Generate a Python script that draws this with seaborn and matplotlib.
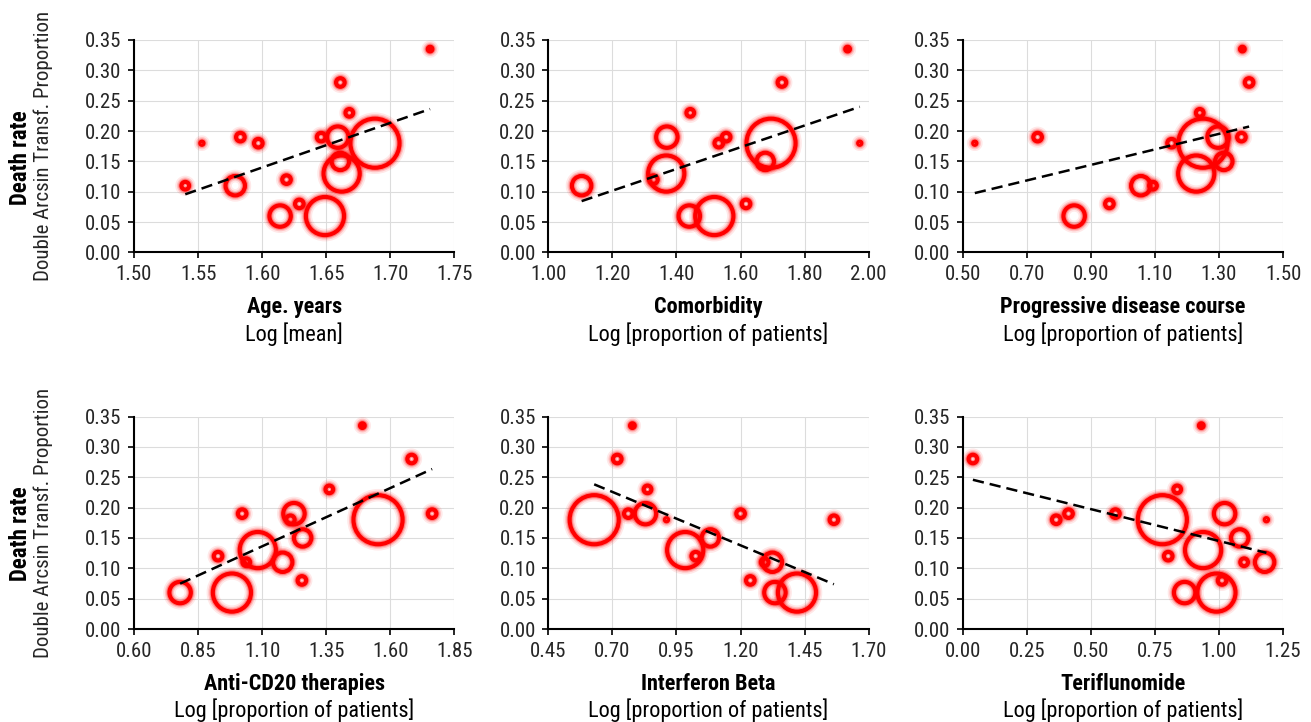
import numpy as np
import pandas as pd
import matplotlib
matplotlib.use("Agg")
import matplotlib.pyplot as plt
import seaborn as sns
from matplotlib.ticker import FormatStrFormatter

nan = np.nan

# 17 studies; death rate and study weight are shared by all six panels
study = list("ABCDEFGHIJKLMNOPQ")
death_rate = [0.335, 0.28, 0.23, 0.19, 0.19, 0.19, 0.18, 0.18, 0.18,
              0.15, 0.13, 0.12, 0.11, 0.11, 0.08, 0.06, 0.06]
weight = [0.3, 1.0, 0.8, 6.2, 1.0, 1.0, 32.6, 0.14, 1.0,
          4.1, 17.7, 1.0, 5.1, 0.8, 1.0, 19.7, 6.2]

# moderator values (log scale) per study, nan = not reported
age_years = [1.731, 1.661, 1.668, 1.659, 1.583, 1.646, 1.688, 1.553, 1.597,
             1.661, 1.662, 1.619, 1.579, 1.540, 1.629, 1.649, 1.614]
comorbidity = [1.934, 1.729, 1.443, 1.370, 1.555, nan, 1.695, 1.972, 1.532,
               1.677, 1.368, 1.328, 1.104, nan, 1.617, 1.518, 1.440]
progressive = [1.373, 1.394, 1.240, 1.297, 0.734, 1.370, 1.250, 0.538, 1.152,
               1.315, 1.229, nan, 1.056, 1.094, 0.958, nan, 0.848]
anti_cd20 = [1.491, 1.683, 1.362, 1.224, 1.022, 1.763, 1.552, nan, 1.210,
             1.258, 1.083, 0.928, 1.180, 1.038, 1.255, 0.982, 0.780]
interferon = [0.778, 0.719, 0.837, 0.829, 0.762, 1.200, 0.629, 0.911, 1.564,
              1.082, 0.984, 1.025, 1.324, 1.294, 1.238, 1.420, 1.334]
teriflunomide = [0.931, 0.040, 0.837, 1.022, 0.413, 0.596, 0.779, 1.185, 0.365,
                 1.081, 0.938, 0.802, 1.178, 1.098, 1.012, 0.990, 0.866]

panel_x = [age_years, comorbidity, progressive, anti_cd20, interferon, teriflunomide]
panel_titles = ["Age. years", "Comorbidity", "Progressive disease course",
                "Anti-CD20 therapies", "Interferon Beta", "Teriflunomide"]
panel_units = ["Log [mean]"] + ["Log [proportion of patients]"] * 5

# meta-regression lines
trend_slope = [0.735, 0.179, 0.128, 0.192, -0.176, -0.105]
trend_intercept = [-1.036, -0.113, 0.029, -0.075, 0.349, 0.250]

x_min = [1.50, 1.00, 0.50, 0.60, 0.45, 0.00]
x_max = [1.75, 2.00, 1.50, 1.85, 1.70, 1.25]
x_step = [0.05, 0.20, 0.20, 0.25, 0.25, 0.25]

frames = []
for name, xs in zip(panel_titles, panel_x):
    frames.append(pd.DataFrame({"panel": name, "study": study, "x": xs,
                                "y": death_rate, "weight": weight}))
df = pd.concat(frames).dropna()

sns.set_theme(style="white")
plt.rcParams["font.family"] = ["Roboto Condensed", "Liberation Sans Narrow", "Roboto", "DejaVu Sans"]

fig, axes = plt.subplots(2, 3, figsize=(13.11, 7.22), dpi=100)
plt.subplots_adjust(left=0.1022, right=0.9787, bottom=0.1288, top=0.9446,
                    wspace=0.293, hspace=0.772)

for i, ax in enumerate(axes.flat):
    sub = df[df["panel"] == panel_titles[i]]
    # soft glow first, then the solid ring
    for lw, alpha in [(9.0, 0.09), (6.5, 0.16), (4.6, 0.3), (3.0, 1.0)]:
        sns.scatterplot(data=sub, x="x", y="y", size="weight",
                        sizes=(0, 1250), size_norm=(0, 32.6),
                        facecolor="none", edgecolor="#ff0000", linewidth=lw,
                        alpha=alpha, legend=False, ax=ax, zorder=3)

    xs = np.array([sub["x"].min(), sub["x"].max()])
    sns.lineplot(x=xs, y=trend_intercept[i] + trend_slope[i] * xs, color="black",
                 linewidth=1.8, linestyle=(0, (4.5, 2.4)), ax=ax, zorder=4)

    n = int(round((x_max[i] - x_min[i]) / x_step[i]))
    ax.set_xlim(x_min[i], x_max[i])
    ax.set_xticks(np.linspace(x_min[i], x_max[i], n + 1))
    ax.set_ylim(0, 0.35)
    ax.set_yticks(np.linspace(0, 0.35, 8))
    ax.xaxis.set_major_formatter(FormatStrFormatter("%.2f"))
    ax.yaxis.set_major_formatter(FormatStrFormatter("%.2f"))
    ax.grid(True, color="#dcdcdc", linewidth=0.8)
    ax.set_axisbelow(True)
    for side in ["top", "right"]:
        ax.spines[side].set_visible(False)
    for side in ["left", "bottom"]:
        ax.spines[side].set_color("black")
        ax.spines[side].set_linewidth(1.5)
    ax.tick_params(axis="both", direction="out", length=4, width=1.2, color="black",
                   labelsize=15, labelcolor="#262626", pad=5,
                   bottom=True, left=True)
    ax.set_xlabel("")
    ax.set_ylabel("")

    ax.annotate(panel_titles[i], xy=(0.5, 0), xycoords="axes fraction",
                xytext=(0, -39.5), textcoords="offset points",
                ha="center", va="center", fontsize=16, fontweight="bold", color="black")
    ax.annotate(panel_units[i], xy=(0.5, 0), xycoords="axes fraction",
                xytext=(0, -58.5), textcoords="offset points",
                ha="center", va="center", fontsize=16, color="black")

    if i % 3 == 0:
        ax.annotate("Death rate", xy=(0, 0.5), xycoords="axes fraction",
                    xytext=(-82, -8), textcoords="offset points", rotation=90,
                    ha="center", va="center", fontsize=16.5, fontweight="bold", color="black")
        ax.annotate("Double Arcsin Transf. Proportion", xy=(0, 0.5), xycoords="axes fraction",
                    xytext=(-65, 0), textcoords="offset points", rotation=90,
                    ha="center", va="center", fontsize=15, color="#262626")

fig.savefig("out.png", dpi=100)
